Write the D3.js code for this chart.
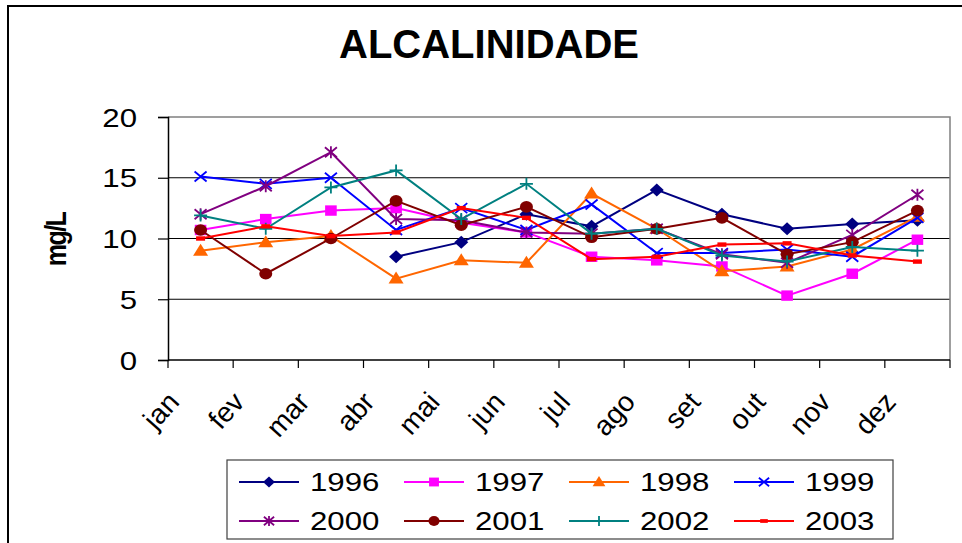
<!DOCTYPE html>
<html>
<head>
<meta charset="utf-8">
<script src="https://cdn.jsdelivr.net/npm/d3@7"></script>
<style>
  html, body { margin: 0; padding: 0; background: #fff; }
  svg { display: block; }
  text { font-family: "Liberation Sans", Arial, sans-serif; fill: #000; }
</style>
</head>
<body>
<svg id="chart" width="962" height="543"></svg>
<script>
// Alkalinity (mg/L) by month, one series per year
const months = ["jan", "fev", "mar", "abr", "mai", "jun", "jul", "ago", "set", "out", "nov", "dez"];
const years = ["1996", "1997", "1998", "1999", "2000", "2001", "2002", "2003"];
const v1996 = [null, null, null, 8.5, 9.7, 12.0, 11.0, 14.0, 12.0, 10.8, 11.2, 11.5];
const v1997 = [10.7, 11.6, 12.3, 12.5, 11.3, 10.5, 8.5, 8.2, 7.7, 5.3, 7.1, 9.9];
const v1998 = [9.0, 9.7, 10.2, 6.7, 8.2, 8.0, 13.7, 10.8, 7.3, 7.7, 9.1, 11.8];
const v1999 = [15.1, 14.5, 15.0, 10.7, 12.5, 10.7, 12.8, 8.8, 8.8, 9.1, 8.5, 11.7];
const v2000 = [12.0, 14.3, 17.1, 11.6, 11.5, 10.5, 10.4, 10.8, 8.7, 8.0, 10.3, 13.6];
const v2001 = [10.7, 7.1, 10.0, 13.1, 11.1, 12.6, 10.1, 10.8, 11.7, 8.7, 9.7, 12.3];
const v2002 = [11.9, 10.8, 14.2, 15.6, 11.6, 14.5, 10.4, 10.8, 8.6, 8.1, 9.3, 9.0];
const v2003 = [10.0, 11.0, 10.2, 10.5, 12.5, 11.7, 8.3, 8.5, 9.5, 9.6, 8.6, 8.1];
const yTicks = [0, 5, 10, 15, 20];

const seriesValues = [v1996, v1997, v1998, v1999, v2000, v2001, v2002, v2003];
const colors = ["#000080", "#FF00FF", "#FF6600", "#0000FF", "#800080", "#800000", "#008080", "#FF0000"];
const markers = ["diamond", "square", "triangle", "x", "asterisk", "circle", "plus", "dash"];

const series = years.map((y, i) => ({ name: y, values: seriesValues[i], color: colors[i], marker: markers[i] }));

const svg = d3.select("#chart");
const plot = { left: 168, right: 950, top: 117, bottom: 360 };

const x = d3.scaleBand().domain(months).range([plot.left, plot.right]).padding(0);
const y = d3.scaleLinear().domain([0, 20]).range([plot.bottom, plot.top]);
const cx = m => x(m) + x.bandwidth() / 2;

// outer chart frame
svg.append("path")
  .attr("d", "M8,543 L8,6 L962,6")
  .attr("fill", "none").attr("stroke", "#000").attr("stroke-width", 2);

// title
svg.append("text")
  .attr("x", 489).attr("y", 58)
  .attr("text-anchor", "middle")
  .attr("font-size", 40).attr("font-weight", "bold")
  .text("ALCALINIDADE");

// horizontal gridlines
svg.append("g").selectAll("line")
  .data(yTicks.filter(t => t > 0 && t < 20))
  .join("line")
  .attr("x1", plot.left).attr("x2", plot.right)
  .attr("y1", d => y(d)).attr("y2", d => y(d))
  .attr("stroke", "#000").attr("stroke-width", 1.2);

// plot frame (top and right in grey)
svg.append("path")
  .attr("d", `M${plot.left},${plot.top} L${plot.right},${plot.top} L${plot.right},${plot.bottom}`)
  .attr("fill", "none").attr("stroke", "#808080").attr("stroke-width", 1.5);

// y axis
const yAxis = d3.axisLeft(y).tickValues(yTicks).tickSize(10).tickPadding(6).tickFormat(d3.format("d"));
const gy = svg.append("g").attr("transform", `translate(${plot.left},0)`).call(yAxis);
gy.select(".domain").attr("stroke", "#000").attr("stroke-width", 1.5);
gy.selectAll(".tick line").attr("stroke", "#000").attr("stroke-width", 1.2);
gy.selectAll(".tick text").remove();
gy.selectAll(".tick").append("text")
  .attr("text-anchor", "end")
  .attr("font-size", 26)
  .attr("transform", "translate(-31,9) scale(1.2,1)")
  .text(d => d);

// x axis: ticks at category boundaries
const boundaries = months.map(m => x(m)).concat([plot.right]);
svg.append("line")
  .attr("x1", plot.left).attr("x2", plot.right)
  .attr("y1", plot.bottom).attr("y2", plot.bottom)
  .attr("stroke", "#000").attr("stroke-width", 1.5);
svg.append("g").selectAll("line")
  .data(boundaries)
  .join("line")
  .attr("x1", d => d).attr("x2", d => d)
  .attr("y1", plot.bottom).attr("y2", plot.bottom + 8)
  .attr("stroke", "#000").attr("stroke-width", 1.2);
// rotated month labels
svg.append("g").selectAll("text")
  .data(months)
  .join("text")
  .attr("text-anchor", "end")
  .attr("font-size", 28)
  .attr("transform", d => `translate(${cx(d) - 20},${plot.bottom + 43}) rotate(-48)`)
  .text(d => d);

// y axis title
svg.append("text")
  .attr("text-anchor", "middle")
  .attr("font-size", 25).attr("font-weight", "bold")
  .attr("letter-spacing", -1.5)
  .attr("transform", `translate(66,${(plot.top + plot.bottom) / 2 + 1}) scale(1.2,1) rotate(-90)`)
  .text("mg/L");

// marker shapes, drawn around (0,0)
function drawMarker(g, type, color, s) {
  s = s || 1;
  const sw = 1.8;
  switch (type) {
    case "diamond":
      g.append("path").attr("d", `M0,${-6.5 * s} L${7 * s},0 L0,${6.5 * s} L${-7 * s},0 Z`).attr("fill", color);
      break;
    case "square":
      g.append("rect").attr("x", -5.8 * s).attr("y", -5.2 * s).attr("width", 11.6 * s).attr("height", 10.4 * s).attr("fill", color);
      break;
    case "triangle":
      g.append("path").attr("d", `M0,${-7 * s} L${7.5 * s},${5 * s} L${-7.5 * s},${5 * s} Z`).attr("fill", color);
      break;
    case "x":
      g.append("path").attr("d", `M${-6 * s},${-5 * s} L${6 * s},${5 * s} M${-6 * s},${5 * s} L${6 * s},${-5 * s}`)
        .attr("stroke", color).attr("stroke-width", sw).attr("fill", "none");
      break;
    case "asterisk":
      g.append("path").attr("d", `M${-6 * s},${-5 * s} L${6 * s},${5 * s} M${-6 * s},${5 * s} L${6 * s},${-5 * s} M0,${-6 * s} L0,${6 * s}`)
        .attr("stroke", color).attr("stroke-width", sw).attr("fill", "none");
      break;
    case "circle":
      g.append("ellipse").attr("rx", 6.5 * s).attr("ry", 5.8 * s).attr("fill", color);
      break;
    case "plus":
      g.append("path").attr("d", `M${-6.5 * s},0 L${6.5 * s},0 M0,${-6 * s} L0,${6 * s}`)
        .attr("stroke", color).attr("stroke-width", sw).attr("fill", "none");
      break;
    case "dash":
      g.append("rect").attr("x", -4.5 * s).attr("y", -2.2 * s).attr("width", 9 * s).attr("height", 4.4 * s).attr("fill", color);
      break;
  }
}

// series lines and markers
const line = d3.line()
  .defined(d => d.v != null)
  .x(d => cx(d.m))
  .y(d => y(d.v));

const gSeries = svg.append("g");
series.forEach(s => {
  const pts = months.map((m, i) => ({ m, v: s.values[i] }));
  const g = gSeries.append("g");
  g.append("path")
    .attr("d", line(pts))
    .attr("fill", "none")
    .attr("stroke", s.color)
    .attr("stroke-width", 2);
  pts.filter(p => p.v != null).forEach(p => {
    const mg = g.append("g").attr("transform", `translate(${cx(p.m)},${y(p.v)})`);
    drawMarker(mg, s.marker, s.color, 1);
  });
});

// legend
const legend = svg.append("g");
legend.append("rect")
  .attr("x", 227).attr("y", 460).attr("width", 666).attr("height", 79)
  .attr("fill", "#fff").attr("stroke", "#404040").attr("stroke-width", 1.2);
series.forEach((s, i) => {
  const col = i % 4, row = Math.floor(i / 4);
  const lx = 239 + col * 165, ly = 482 + row * 39;
  const g = legend.append("g");
  g.append("line").attr("x1", lx).attr("x2", lx + 60).attr("y1", ly).attr("y2", ly)
    .attr("stroke", s.color).attr("stroke-width", 1.8);
  const mg = g.append("g").attr("transform", `translate(${lx + 30},${ly})`);
  drawMarker(mg, s.marker, s.color, 0.85);
  g.append("text")
    .attr("font-size", 26)
    .attr("transform", `translate(${lx + 71},${ly + 9}) scale(1.2,1)`)
    .text(s.name);
});
</script>
</body>
</html>
